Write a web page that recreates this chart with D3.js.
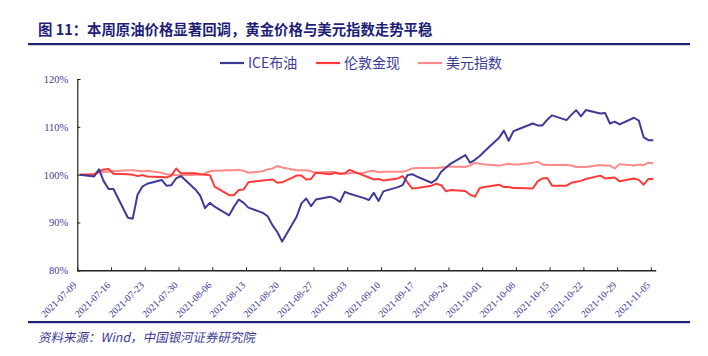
<!DOCTYPE html>
<html><head><meta charset="utf-8">
<script src="https://cdn.jsdelivr.net/npm/d3@7"></script>
<style>body{margin:0;background:#fff}svg{display:block}</style>
</head><body><svg id="c" width="708" height="356"></svg>
<script>
const title = "图 11：本周原油价格显著回调，黄金价格与美元指数走势平稳";
const source = "资料来源：Wind，中国银河证券研究院";
const seriesNames = ["ICE布油", "伦敦金现", "美元指数"];
const dates = [
"2021-07-09","2021-07-12","2021-07-13","2021-07-14","2021-07-15","2021-07-16","2021-07-19","2021-07-20","2021-07-21","2021-07-22","2021-07-23","2021-07-26","2021-07-27","2021-07-28","2021-07-29","2021-07-30",
"2021-08-02","2021-08-03","2021-08-04","2021-08-05","2021-08-06","2021-08-09","2021-08-10","2021-08-11","2021-08-12","2021-08-13","2021-08-16","2021-08-17","2021-08-18","2021-08-19","2021-08-20","2021-08-23","2021-08-24","2021-08-25","2021-08-26","2021-08-27","2021-08-30","2021-08-31",
"2021-09-01","2021-09-02","2021-09-03","2021-09-06","2021-09-07","2021-09-08","2021-09-09","2021-09-10","2021-09-13","2021-09-14","2021-09-15","2021-09-16","2021-09-17","2021-09-20","2021-09-21","2021-09-22","2021-09-23","2021-09-24","2021-09-27","2021-09-28","2021-09-29","2021-09-30",
"2021-10-01","2021-10-04","2021-10-05","2021-10-06","2021-10-07","2021-10-08","2021-10-11","2021-10-12","2021-10-13","2021-10-14","2021-10-15","2021-10-18","2021-10-19","2021-10-20","2021-10-21","2021-10-22","2021-10-25","2021-10-26","2021-10-27","2021-10-28","2021-10-29",
"2021-11-01","2021-11-02","2021-11-03","2021-11-04","2021-11-05"];
const brent = [
100.0,99.6,101.1,98.6,97.0,97.0,91.0,90.8,95.8,97.5,98.1,98.9,97.7,97.8,99.2,99.7,
96.9,95.6,93.0,94.1,93.3,91.5,93.3,94.8,94.1,93.1,92.0,91.3,89.4,88.0,86.0,91.2,94.0,95.0,93.4,94.8,95.4,95.0,
94.3,96.4,96.0,95.1,94.7,96.2,94.5,96.5,97.4,97.8,99.9,100.1,99.6,98.3,99.0,100.6,101.5,102.3,104.1,102.5,103.1,103.9,
104.9,107.7,109.2,107.1,109.1,109.5,110.7,110.3,110.3,111.5,112.4,111.4,112.5,113.5,112.2,113.5,112.8,112.9,110.7,111.1,110.5,
111.9,111.3,107.8,107.2,107.2];
const gold = [
100.0,100.0,100.7,101.1,101.2,100.2,100.1,100.0,99.7,99.9,99.6,99.5,99.4,99.8,101.3,100.3,
100.3,100.1,100.0,99.9,97.5,95.7,95.7,96.8,96.9,98.4,98.8,98.9,99.0,98.3,98.4,99.8,99.8,99.0,99.1,100.4,100.1,100.4,
100.2,100.3,101.0,99.8,99.4,99.0,99.1,98.8,99.2,99.7,98.4,97.1,97.2,97.7,98.1,97.8,96.5,96.8,96.6,95.8,95.4,97.2,
97.4,97.9,97.4,97.4,97.2,97.2,97.1,98.6,99.2,99.3,97.7,97.7,98.3,98.5,98.7,99.1,99.8,99.2,99.3,99.4,98.6,
99.2,98.9,97.9,99.1,99.1];
const dxy = [
100.0,100.2,100.4,100.6,100.6,100.7,100.9,100.9,100.8,100.7,100.8,100.4,100.1,100.0,99.9,99.9,
100.0,100.0,100.3,100.7,100.8,100.9,100.9,101.0,100.8,100.4,100.7,101.1,101.3,101.8,101.5,100.9,100.9,100.9,100.7,100.4,100.6,100.5,
100.2,100.2,100.3,100.4,100.7,100.8,100.5,100.6,100.6,100.6,100.9,101.3,101.4,101.4,101.4,101.5,101.6,101.7,101.6,101.9,102.5,102.3,
102.1,101.9,102.1,102.3,102.1,102.1,102.5,102.7,102.1,102.0,102.0,102.0,101.9,101.6,101.6,101.6,102.0,101.9,101.9,101.3,102.2,
101.9,102.1,102.0,102.5,102.4];
const yTicks = [80, 90, 100, 110, 120];
const xTickLabels = ["2021-07-09","2021-07-16","2021-07-23","2021-07-30","2021-08-06","2021-08-13","2021-08-20","2021-08-27","2021-09-03","2021-09-10","2021-09-17","2021-09-24","2021-10-01","2021-10-08","2021-10-15","2021-10-22","2021-10-29","2021-11-05"];
const axisEnd = "2021-11-06";

const colors = ["#3f3a98", "#ff3a3a", "#ff8a8a"];
const navy = "#1e1e78";
const labelColor = "#3c3c96";
const serif = "'Liberation Serif','DejaVu Serif',serif";
const cjk = "'Noto Sans CJK SC','Liberation Serif',serif";

const parse = d3.utcParse("%Y-%m-%d");
const svg = d3.select("#c");

// Title
svg.append("text").attr("x", 38).attr("y", 35)
  .attr("font-family", cjk).attr("font-weight", "bold").attr("font-size", 14.4)
  .attr("fill", navy).text(title);
svg.append("rect").attr("x", 28).attr("y", 43).attr("width", 662).attr("height", 2.2).attr("fill", navy);

// Footer
svg.append("rect").attr("x", 28).attr("y", 321).attr("width", 662).attr("height", 2.2).attr("fill", navy);
svg.append("text").attr("x", 38).attr("y", 342)
  .attr("font-family", cjk).attr("font-size", 12.5)
  .attr("fill", labelColor).attr("transform", "skewX(-12) translate(72.7,0)").text(source);

// Scales
const x = d3.scaleUtc().domain([parse(dates[0]), parse(axisEnd)]).range([77.3, 655.7]);
const y = d3.scaleLinear().domain([80, 120]).range([270.3, 79]);
const px = d => x(d3.utcHour.offset(parse(d), 12));

// Axes
const yAxis = svg.append("g").attr("transform", "translate(77.3,0)")
  .call(d3.axisLeft(y).tickValues(yTicks).tickSize(-3).tickPadding(9).tickFormat(v => v + "%"));
yAxis.select(".domain").attr("stroke", "#222").attr("stroke-width", 1.2);
yAxis.selectAll(".tick line").attr("stroke", "#222");
yAxis.selectAll("text").attr("font-family", serif).attr("font-size", 10.5).attr("fill", labelColor);

const xAxis = svg.append("g").attr("transform", "translate(0,270.3)")
  .call(d3.axisBottom(x).tickValues(xTickLabels.map(parse)).tickSize(-3).tickSizeOuter(0)
    .tickFormat(d3.utcFormat("%Y-%m-%d")));
xAxis.select(".domain").attr("stroke", "#222").attr("stroke-width", 1.5);
xAxis.selectAll(".tick line").attr("stroke", "#222");
xAxis.selectAll("text")
  .attr("font-family", serif).attr("font-size", 9.8).attr("fill", labelColor)
  .attr("text-anchor", "end").attr("y", 0).attr("dy", "0.35em")
  .attr("transform", "translate(-3,13) rotate(-45)");

// Lines
const allSeries = [brent, gold, dxy];
const line = d3.line().x((v, i) => px(dates[i])).y(v => y(v));
[2, 1, 0].forEach(k => {
  svg.append("path").datum(allSeries[k]).attr("d", line)
    .attr("fill", "none").attr("stroke", colors[k]).attr("stroke-width", 2)
    .attr("stroke-linejoin", "round");
});

// Legend
const legendItems = [{x: 220, tx: 248}, {x: 316, tx: 344}, {x: 418, tx: 446}];
legendItems.forEach((it, k) => {
  svg.append("line").attr("x1", it.x).attr("x2", it.x + 24).attr("y1", 63).attr("y2", 63)
    .attr("stroke", colors[k]).attr("stroke-width", 2.2);
  svg.append("text").attr("x", it.tx).attr("y", 68)
    .attr("font-family", cjk).attr("font-size", 14).attr("fill", labelColor)
    .text(seriesNames[k]);
});
</script></body></html>
